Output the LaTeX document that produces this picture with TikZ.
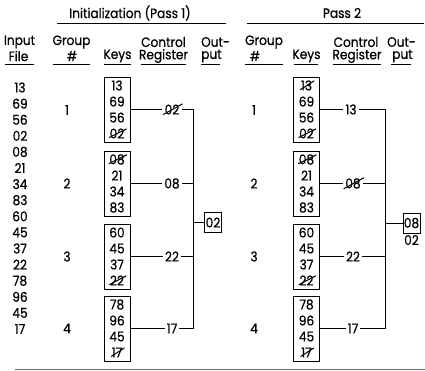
\documentclass[tikz,border=0pt]{standalone}
\usepackage{fontspec}
\setmainfont{Poppins}[FakeStretch=0.9,FakeBold=0.6]
\newcommand{\keybox}[7]{%
  \node[keybox] (#1) at (#2,#3) {};
  \node[num] (#1-1) at (#2,#3-24) {#4};
  \node[num] (#1-2) at (#2,#3-8) {#5};
  \node[num] (#1-3) at (#2,#3+8) {#6};
  \node[num] (#1-4) at (#2,#3+24) {#7};
}
\newcommand{\strikeit}[1]{%
  \draw[strk] ([xshift=0.5pt,yshift=2pt]#1.south west) -- ([xshift=1pt,yshift=-1.5pt]#1.north east) -- ++(-2.5pt,-1.5pt);
}
\begin{document}
\begin{tikzpicture}[x=1pt,y=-1pt,
  every node/.style={font=\fontsize{13.5}{13.5}\selectfont, inner sep=1pt},
  num/.style={},
  keybox/.style={draw, line width=0.9pt, minimum width=26pt, minimum height=65pt, inner sep=0pt},
  outbox/.style={draw, line width=0.9pt, minimum width=17pt, minimum height=20pt, inner sep=0pt},
  reg/.style={inner sep=2pt},
  wire/.style={line width=0.9pt},
  rule/.style={line width=0.9pt},
  strk/.style={line width=1pt},
  hdr/.style={}]
\useasboundingbox (0,0) rectangle (425,371);

% titles
\node[hdr] (t1) at (130,13) {Initialization (Pass 1)};
\node[hdr] (t2) at (342,13) {Pass 2};
\draw[rule] (57,23) -- (226,23);
\draw[rule] (247,23) -- (424,23);

% column headers pass 1
\node[hdr] (h1) at (19.5,42) {Input};
\node[hdr] (h2) at (18.5,56) {File};
\node[hdr] (h3) at (71.5,42) {Group};
\node[hdr] (h4) at (72,56) {\#};
\node[hdr] (h5) at (117.5,56) {Keys};
\node[hdr] (h6) at (163.5,42) {Control};
\node[hdr] (h7) at (163.5,56) {Register};
\node[hdr,anchor=west] (h8) at (200,42) {Out-};
\node[hdr,anchor=west] (h9) at (200,56) {put};
% column headers pass 2
\node[hdr] (p3) at (264,42) {Group};
\node[hdr] (p4) at (255,56) {\#};
\node[hdr] (p5) at (306.5,56) {Keys};
\node[hdr] (p6) at (356,42) {Control};
\node[hdr] (p7) at (357,56) {Register};
\node[hdr,anchor=west] (p8) at (386,42) {Out-};
\node[hdr,anchor=west] (p9) at (391,56) {put};

% header underlines
\draw[rule] (5,64) -- (34,64);
\draw[rule] (53,64) -- (90,64);
\draw[rule] (104,64) -- (131,64);
\draw[rule] (141,64) -- (186,64);
\draw[rule] (201,64) -- (220,64);
\draw[rule] (245,64) -- (283,64);
\draw[rule] (294,64) -- (318,64);
\draw[rule] (333,64) -- (381,64);
\draw[rule] (391,64) -- (411,64);

% input file
\foreach \v [count=\i from 0] in {13,69,56,02,08,21,34,83,60,45,37,22,78,96,45,17}
  \node[num] (in\i) at (20,{87.5+16.1*\i}) {\v};

% group numbers
\foreach \g/\y in {1/110,2/183.5,3/256.5,4/328.5}{
  \node[num] (ga\g) at (67,\y) {\g};
  \node[num] (gb\g) at (254,\y) {\g};
}

% keys pass 1
\keybox{ka1}{117}{109.5}{13}{69}{56}{02}
\keybox{ka2}{117}{183.5}{08}{21}{34}{83}
\keybox{ka3}{117}{256.5}{60}{45}{37}{22}
\keybox{ka4}{117}{328.5}{78}{96}{45}{17}
% keys pass 2
\keybox{kb1}{306.5}{109.5}{13}{69}{56}{02}
\keybox{kb2}{306.5}{183.5}{08}{21}{34}{83}
\keybox{kb3}{306.5}{256.5}{60}{45}{37}{22}
\keybox{kb4}{306.5}{328.5}{78}{96}{45}{17}

% control registers
\node[reg] (ra1) at (172,109.5) {02};
\node[reg] (ra2) at (172,183.5) {08};
\node[reg] (ra3) at (172,256.5) {22};
\node[reg] (ra4) at (172,328.5) {17};
\node[reg] (rb1) at (351,109.5) {13};
\node[reg] (rb2) at (353,183.5) {08};
\node[reg] (rb3) at (353,256.5) {22};
\node[reg] (rb4) at (353,328.5) {17};

% bus coordinates
\coordinate (busa) at (193,0);
\coordinate (busb) at (385,0);

% outputs
\node[outbox] (oa) at (213,222.5) {02};
\node[outbox] (ob) at (411.5,223) {08};
\node[num] (ob2) at (411.5,240) {02};

% wires
\foreach \i in {1,2,3,4}{
  \draw[wire] (ka\i) -- (ra\i);
  \draw[wire] (ra\i) -- (ra\i -| busa);
  \draw[wire] (kb\i) -- (rb\i);
  \draw[wire] (rb\i) -- (rb\i -| busb);
}
\draw[wire] (ra1 -| busa) -- (ra4 -| busa);
\draw[wire] (oa -| busa) -- (oa);
\draw[wire] (rb1 -| busb) -- (rb4 -| busb);
\draw[wire] (ob -| busb) -- (ob);

% strikes
\strikeit{ka1-4}
\strikeit{ka2-1}
\strikeit{ka3-4}
\strikeit{ka4-4}
\strikeit{ra1}
\strikeit{kb1-1}
\strikeit{kb1-4}
\strikeit{kb2-1}
\strikeit{kb3-4}
\strikeit{kb4-4}
\strikeit{rb2}

% bottom rule
\draw[rule, black!60] (15,369) -- (425,369);
\end{tikzpicture}
\end{document}
